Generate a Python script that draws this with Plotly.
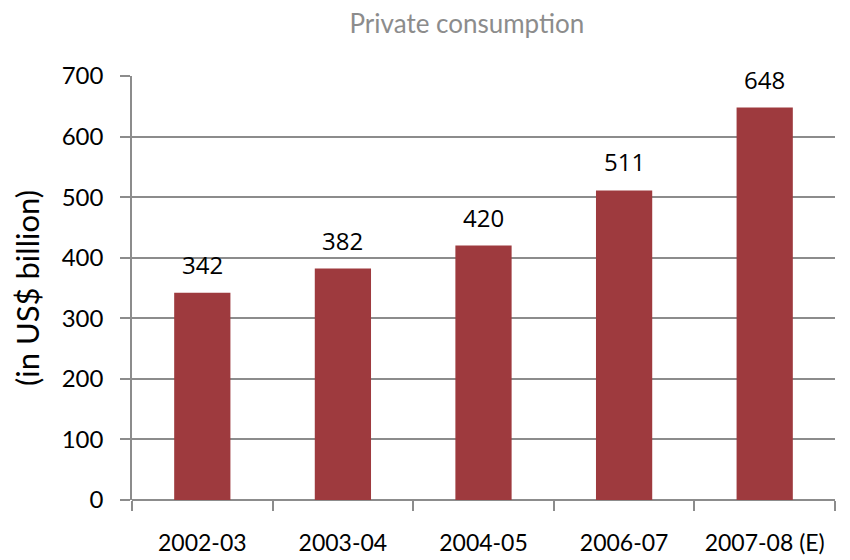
import plotly.graph_objects as go

categories = ["2002-03", "2003-04", "2004-05", "2006-07", "2007-08 (E)"]
values = [342, 382, 420, 511, 648]
y_ticks = [0, 100, 200, 300, 400, 500, 600, 700]

bar_color = "#9E3A3E"
grid_color = "#8C8C8C"

fig = go.Figure()
fig.add_trace(go.Bar(x=categories, y=values, marker_color=bar_color,
                     marker_line_width=0, width=0.4))

for c, v in zip(categories, values):
    fig.add_annotation(x=c, y=v, text=str(v), showarrow=False, yanchor="bottom",
                       yshift=10, font=dict(family="Open Sans", size=24, color="#000"))

# page body has an 8px margin, so the figure is sized/offset to compensate
fig.update_layout(
    width=842, height=552,
    margin=dict(l=124, r=15, t=68, b=60, autoexpand=False),
    paper_bgcolor="white", plot_bgcolor="white",
    showlegend=False,
    title=dict(text="Private consumption", x=0.545, xanchor="center", y=0.972, yanchor="middle",
               font=dict(family="Lato", size=26, color="#8C8C8C")),
    xaxis=dict(type="category", tickson="boundaries", ticks="outside", ticklen=10,
               tickcolor=grid_color, tickwidth=1.5,
               showline=False, showgrid=False,
               tickfont=dict(family="Lato", size=23, color="#000"),
               ticklabelstandoff=27),
    yaxis=dict(range=[0, 700], tickvals=y_ticks, showgrid=True, gridcolor=grid_color, gridwidth=1.5,
               showline=True, linecolor=grid_color, linewidth=1.5,
               ticks="outside", ticklen=10, tickcolor=grid_color, tickwidth=1.5,
               zeroline=True, zerolinecolor=grid_color, zerolinewidth=1.5,
               tickfont=dict(family="Lato", size=24, color="#000"),
               ticklabelstandoff=12,
               title=dict(text="(in US$ billion)", font=dict(family="Lato", size=31, color="#000"),
                          standoff=14)),
)

fig.write_html("out.html")
